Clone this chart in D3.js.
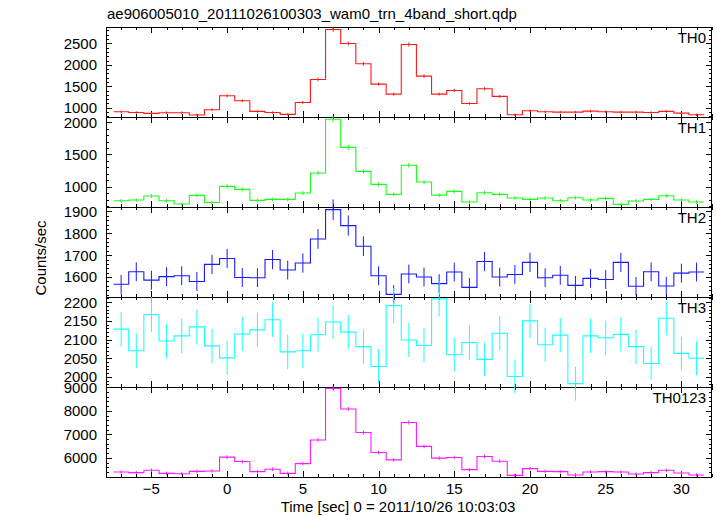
<!DOCTYPE html>
<html><head><meta charset="utf-8">
<script src="https://cdn.jsdelivr.net/npm/d3@7"></script>
<style>
body{margin:0;background:#fff}
svg{display:block}
text{font-family:"Liberation Sans",Arial,Helvetica,sans-serif;fill:#000}
</style>
</head><body>
<svg id="c" width="717" height="516"></svg>
<script>
// ---- data ----
const title = "ae906005010_20111026100303_wam0_trn_4band_short.qdp";
const xLabel = "Time [sec] 0 = 2011/10/26 10:03:03";
const yLabel = "Counts/sec";
const times = [-7,-6,-5,-4,-3,-2,-1,0,1,2,3,4,5,6,7,8,9,10,11,12,13,14,15,16,17,18,19,20,21,22,23,24,25,26,27,28,29,30,31];

const th0 = [907,890,870,885,885,830,953,1279,1163,915,890,845,1124,1659,2822,2496,2023,1550,1318,
             2473,1736,1318,1403,1101,1442,1264,837,930,907,899,899,922,907,899,899,891,915,876,837];
const th0Err = [30,30,29,30,30,29,31,36,34,30,30,29,34,41,53,50,45,39,36,
                50,42,36,37,33,38,36,29,30,30,30,30,30,30,30,30,30,30,30,29];

const th1 = [782,793,855,782,731,865,756,1005,959,788,803,803,902,1212,2047,1611,1238,1036,881,
             1332,1073,870,927,762,907,881,824,803,824,782,829,793,819,725,777,803,860,793,762];
const th1Err = [28,28,29,28,27,29,27,32,31,28,28,28,30,35,45,40,35,32,30,
                36,33,29,30,28,30,30,29,28,29,28,29,28,29,27,28,28,29,28,28];

const th2 = [1567,1624,1586,1602,1606,1580,1658,1685,1598,1597,1680,1632,1664,1774,1908,1835,1741,1606,1521,
             1614,1600,1570,1623,1553,1671,1600,1612,1667,1597,1608,1562,1594,1589,1667,1558,1624,1559,1618,1623];
const th2Err = [43,43,43,43,43,43,44,44,43,43,44,43,44,45,47,46,45,43,42,
                43,43,43,43,42,44,43,43,44,43,43,43,43,43,44,42,43,42,43,43];

const th3 = [2128,2070,2167,2096,2110,2134,2083,2051,2115,2126,2153,2067,2070,2113,2147,2120,2081,2028,2191,
             2099,2084,2209,2060,2092,2047,2117,2001,2150,2086,2112,1982,2110,2105,2114,2081,2036,2157,2063,2050];
const th3Err = [46,46,47,46,46,46,46,46,46,46,46,46,46,46,46,46,46,45,47,
                46,46,47,45,46,45,46,45,46,46,46,45,46,46,46,46,45,46,45,45];

const th0123 = [5397,5369,5469,5340,5326,5426,5440,6029,5842,5412,5512,5340,5756,6760,8956,8080,7076,6230,5914,
                7506,6488,5986,6014,5498,6057,5857,5254,5541,5426,5412,5268,5397,5412,5397,5311,5369,5469,5354,5268];
const th0123Err = [73,73,74,73,73,74,74,78,76,74,74,73,76,82,95,90,84,79,77,
                   87,81,77,78,74,78,77,72,74,74,74,73,74,74,74,73,73,74,73,73];

const bandNames = ["TH0","TH1","TH2","TH3","TH0123"];
const bandValues = [th0, th1, th2, th3, th0123];
const bandErrors = [th0Err, th1Err, th2Err, th3Err, th0123Err];
const bandColors = ["#ff1a1a","#1aff1a","#1a1aff","#1affff","#ff1aff"];
const yDomains = [[785,2880],[685,2082],[1509,1920],[1973,2214],[5185,9013]];
const yMajorTicks = [[1000,1500,2000,2500],[1000,1500,2000],[1600,1700,1800,1900],[2000,2050,2100,2150,2200],[6000,7000,8000,9000]];
const yMinorStep = [100,100,20,10,200];
const xDomain = [-8,32];
const xMajorTicks = [-5,0,5,10,15,20,25,30];
const xMinorStep = 1;

// ---- layout ----
const L = 106, R = 711.7, T = 27, PH = 90;
const svg = d3.select("#c");
const x = d3.scaleLinear().domain(xDomain).range([L, R]);
const fmt = d3.format("");

svg.append("text").attr("x", 107).attr("y", 19).attr("font-size", 15).text(title);

const axes = svg.append("g").attr("shape-rendering","crispEdges").attr("stroke","#000").attr("stroke-width",1);
const plots = svg.append("g");
const labels = svg.append("g");

bandNames.forEach((name, i) => {
  const y0 = T + i * PH, y1 = y0 + PH;
  const y = d3.scaleLinear().domain(yDomains[i]).range([y1, y0]);
  const g = axes.append("g");
  g.append("rect").attr("x", L).attr("y", y0).attr("width", R - L).attr("height", PH).attr("fill","none");
  const xMinor = d3.range(Math.ceil(xDomain[0]), xDomain[1] + 0.001, xMinorStep);
  xMinor.forEach(t => {
    const major = xMajorTicks.includes(t);
    const len = major ? 6 : 3;
    const px = Math.round(x(t)) + 0.5;
    g.append("line").attr("x1", px).attr("x2", px).attr("y1", y0).attr("y2", y0 + len);
    g.append("line").attr("x1", px).attr("x2", px).attr("y1", y1).attr("y2", y1 - len);
  });
  const step = yMinorStep[i];
  const yMinor = d3.range(Math.ceil(yDomains[i][0] / step) * step, yDomains[i][1], step);
  yMinor.forEach(v => {
    const major = yMajorTicks[i].includes(v);
    const len = major ? 6 : 3;
    const py = Math.round(y(v)) + 0.5;
    g.append("line").attr("x1", L).attr("x2", L + len).attr("y1", py).attr("y2", py);
    g.append("line").attr("x1", R).attr("x2", R - len).attr("y1", py).attr("y2", py);
  });
  yMajorTicks[i].forEach(v => {
    labels.append("text").attr("x", 97).attr("y", y(v)).attr("dy", "0.36em")
      .attr("text-anchor","end").attr("font-size", 15).text(fmt(v));
  });
  labels.append("text").attr("x", 706).attr("y", y0 + 15.5).attr("text-anchor","end")
    .attr("font-size", 15).text(name);

  const vals = bandValues[i];
  const pts = times.map((t, j) => [t - 0.5, vals[j]]);
  pts.push([times[times.length - 1] + 0.5, vals[vals.length - 1]]);
  const line = d3.line().x(d => x(d[0])).y(d => y(d[1])).curve(d3.curveStepAfter);
  plots.append("path").attr("d", line(pts)).attr("fill","none")
    .attr("stroke", bandColors[i]).attr("stroke-width", 1.1);
  plots.append("g").selectAll("line").data(times).join("line")
    .attr("x1", t => x(t)).attr("x2", t => x(t))
    .attr("y1", (t, j) => y(vals[j] - bandErrors[i][j]))
    .attr("y2", (t, j) => y(vals[j] + bandErrors[i][j]))
    .attr("stroke", bandColors[i]).attr("stroke-width", 1);
});

const yb = T + bandNames.length * PH;
xMajorTicks.forEach(t => {
  labels.append("text").attr("x", x(t)).attr("y", yb + 17).attr("text-anchor","middle")
    .attr("font-size", 15).text(t < 0 ? "\u2212" + Math.abs(t) : String(t));
});
labels.append("text").attr("x", 398).attr("y", 512).attr("text-anchor","middle")
  .attr("font-size", 15).text(xLabel);
labels.append("text").attr("transform", "translate(46,258) rotate(-90)")
  .attr("text-anchor","middle").attr("font-size", 15).text(yLabel);
</script>
</body></html>
